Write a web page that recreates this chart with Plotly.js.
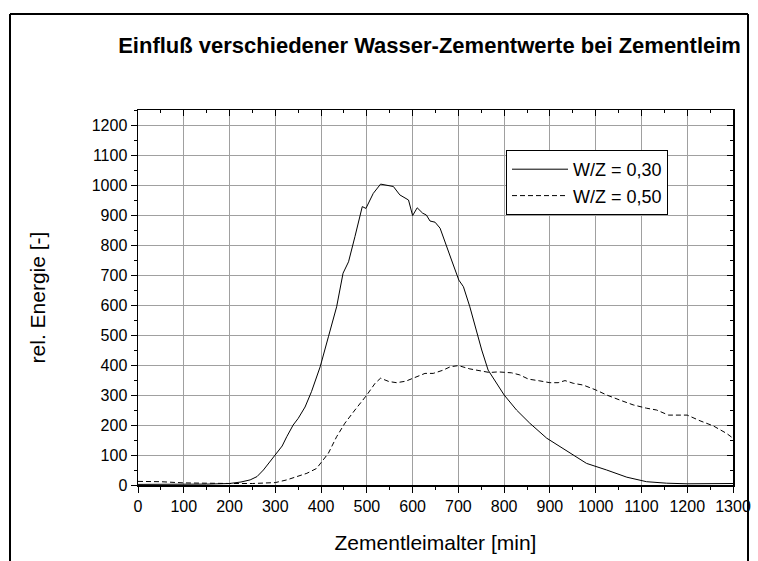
<!DOCTYPE html>
<html>
<head>
<meta charset="utf-8">
<script src="https://cdn.plot.ly/plotly-3.0.1.min.js"></script>
<style>
html,body{margin:0;padding:0;background:#fff;}
#chart{width:758px;height:561px;}
</style>
</head>
<body>
<div id="chart"></div>
<script>
// W/Z = 0,30 (solid)
const x030 = [0,50,100,150,200,225,245,260,274,287,300,315,325,339,350,365,379,390,398,416,434,448,460,474,490,498,514,530,543,558,572,591,600,610,622,630,638,649,660,671,685,701,711,725,740,751,765,784,800,827,856,893,944,980,1024,1068,1111,1155,1200,1250,1300];
const y030 = [2,2,2,3,5,10,17,28,50,75,100,130,161,200,222,260,311,355,394,494,594,706,744,828,928,922,972,1003,999,995,967,950,898,924,906,900,880,876,856,806,750,683,661,594,506,450,383,339,300,250,206,156,106,72,50,26,11,6,4,4,5];
// W/Z = 0,50 (dashed)
const x050 = [0,50,100,150,200,250,288,300,325,354,369,390,401,416,434,452,474,500,518,530,548,565,585,600,627,645,667,682,700,725,755,768,787,816,834,853,878,900,918,933,951,973,1000,1024,1053,1082,1111,1133,1159,1177,1200,1228,1257,1286,1300];
const y050 = [12,11,7,5,5,5,8,8,17,30,39,55,78,106,161,206,250,300,339,356,345,341,346,356,372,372,383,394,398,387,378,375,377,374,367,353,347,341,341,348,339,333,317,300,283,267,256,250,233,233,233,214,197,172,156];
const seriesNames = ["W/Z = 0,30", "W/Z = 0,50"];
const chartTitle = "Einfluß verschiedener Wasser-Zementwerte bei Zementleim";
const xTitle = "Zementleimalter [min]";
const yTitle = "rel. Energie [-]";

const font = "Liberation Sans, Arial, sans-serif";
const L = 138, R = 25, T = 110, B = 76;
const W = 758, H = 561;
const pw = W - L - R, ph = H - T - B;
const px = v => (v - L) / pw;
const py = v => (H - B - v) / ph;

const traces = [
  {x: x030, y: y030, name: seriesNames[0], mode: 'lines', line: {color: '#000', width: 1}},
  {x: x050, y: y050, name: seriesNames[1], mode: 'lines', line: {color: '#000', width: 1, dash: '5px,3px'}},
  {x: [], y: [], xaxis: 'x2', yaxis: 'y2', showlegend: false, hoverinfo: 'skip', mode: 'lines'}
];

const common = {linecolor: '#000', linewidth: 1.5, showline: true, zeroline: false, tickcolor: '#000', tickwidth: 1};

const layout = {
  width: W, height: H,
  margin: {l: L, r: R, t: T, b: B},
  paper_bgcolor: '#fff', plot_bgcolor: '#fff',
  font: {family: font, color: '#000'},
  showlegend: true,
  title: {text: '<b>' + chartTitle + '</b>', font: {size: 22, family: font, color: '#000'},
          xref: 'paper', x: 0.49, xanchor: 'center', yref: 'container', y: 1 - 45 / H, yanchor: 'middle'},
  xaxis: Object.assign({}, common, {
    range: [0, 1300], dtick: 100, tick0: 0, ticks: 'outside', ticklen: 6,
    showgrid: true, gridcolor: '#a0a0a0', gridwidth: 1,
    minor: {dtick: 50, ticks: 'outside', ticklen: 3, tickcolor: '#000', showgrid: false},
    tickfont: {size: 16, family: font}, mirror: false,
    title: {text: xTitle, font: {size: 21, family: font}, standoff: 21}
  }),
  yaxis: Object.assign({}, common, {
    range: [0, 1250], dtick: 100, tick0: 0, ticks: 'outside', ticklen: 6,
    showgrid: true, gridcolor: '#a0a0a0', gridwidth: 1,
    minor: {dtick: 50, ticks: 'outside', ticklen: 3, tickcolor: '#000', showgrid: false},
    tickfont: {size: 16, family: font}, mirror: false,
    title: {text: yTitle, font: {size: 21, family: font}, standoff: 40}
  }),
  xaxis2: Object.assign({}, common, {
    overlaying: 'x', side: 'top', anchor: 'y2', range: [0, 1300], dtick: 100, tick0: 0,
    ticks: 'inside', ticklen: 6, showticklabels: false, showgrid: false,
    minor: {dtick: 50, ticks: 'inside', ticklen: 3, tickcolor: '#000', showgrid: false}
  }),
  yaxis2: Object.assign({}, common, {
    overlaying: 'y', side: 'right', anchor: 'x2', range: [0, 1250], dtick: 100, tick0: 0,
    ticks: 'inside', ticklen: 6, showticklabels: false, showgrid: false,
    minor: {dtick: 50, ticks: 'inside', ticklen: 3, tickcolor: '#000', showgrid: false}
  }),
  legend: {x: px(506), y: py(150), xanchor: 'left', yanchor: 'top',
           bgcolor: '#fff', bordercolor: '#000', borderwidth: 1,
           font: {size: 18, family: font}, tracegroupgap: 0, itemwidth: 56},
  shapes: [
    {type: 'line', xref: 'paper', yref: 'paper', x0: px(10), x1: px(10), y0: py(14), y1: py(600), line: {color: '#000', width: 2}},
    {type: 'line', xref: 'paper', yref: 'paper', x0: px(10), x1: px(748), y0: py(14), y1: py(14), line: {color: '#000', width: 2}},
    {type: 'line', xref: 'paper', yref: 'paper', x0: px(748), x1: px(748), y0: py(14), y1: py(600), line: {color: '#000', width: 2}}
  ]
};

Plotly.newPlot('chart', traces, layout, {displayModeBar: false, staticPlot: true});
</script>
</body>
</html>
